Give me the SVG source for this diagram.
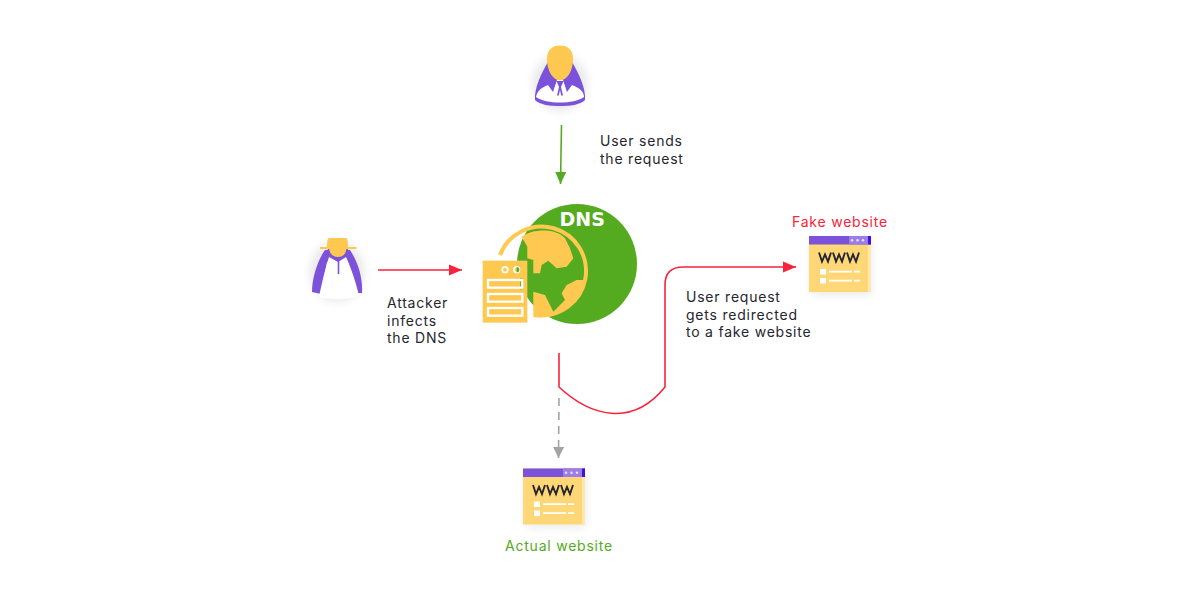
<svg xmlns="http://www.w3.org/2000/svg" width="1200" height="610" viewBox="0 0 1200 610">
<style>
text{font-family:"Inter","Open Sans","Liberation Sans",sans-serif;font-size:14px;letter-spacing:.78px;fill:#26262e}
.y{fill:#ffc851}.p{fill:#7b52d9}
.l{fill:none;stroke-width:1.6}
.r{stroke:#f9233b}
</style>
<defs>
<marker id="hr" markerUnits="userSpaceOnUse" markerWidth="14" markerHeight="12" refX="13" refY="6" orient="auto"><path d="M0 0.500L13 6L0 11.500Z" fill="#f9233b"/></marker>
<marker id="hg" markerUnits="userSpaceOnUse" markerWidth="14" markerHeight="12" refX="12" refY="6" orient="auto"><path d="M0 0.500L12 6L0 11.500Z" fill="#55ab20"/></marker>
<marker id="hk" markerUnits="userSpaceOnUse" markerWidth="14" markerHeight="12" refX="11" refY="6" orient="auto"><path d="M0 0.500L11 6L0 11.500Z" fill="#a3a3a3"/></marker>
<filter id="soft" x="-40%" y="-40%" width="180%" height="180%"><feGaussianBlur stdDeviation="5"/></filter>
<g id="site">
<rect x="3" y="3" width="60" height="56" fill="#000" opacity=".08" filter="url(#soft)"/>
<rect width="62" height="56" fill="#ffd777"/>
<rect x="59" width="3" height="56" fill="#ffe7ae"/>
<rect width="62" height="8.500" fill="#7b52d9"/>
<rect x="40" width="19" height="8.500" fill="#9d7ce6"/>
<rect x="59" width="3" height="8.500" fill="#3f10e0"/>
<circle cx="43" cy="4.300" r="1.300" fill="#d9e4ff"/><circle cx="48.500" cy="4.300" r="1.300" fill="#d9e4ff"/><circle cx="54" cy="4.300" r="1.300" fill="#d9e4ff"/>
<path d="M10 16.500l3 9 3-7 3 7 3-9M24 16.500l3 9 3-7 3 7 3-9M38 16.500l3 9 3-7 3 7 3-9" fill="none" stroke="#26262e" stroke-width="1.900"/>
<rect x="11" y="33" width="6" height="5.500" fill="#fff"/><rect x="11" y="42" width="6" height="5.500" fill="#fff"/>
<path d="M20 35.700H43M45 35.700H51M20 44.700H43M45 44.700H51" stroke="#fff" stroke-width="1.800"/>
</g>
</defs>
<rect width="1200" height="610" fill="#fff"/>

<g id="user">
<ellipse cx="560" cy="83" rx="27" ry="28" fill="#000" opacity=".09" filter="url(#soft)"/>
<path d="M548 62C542 72 534 88 535 100C540 105 550 106 560 106C570 106 580 105 585 100C586 88 578 72 572 62Z" class="p"/>
<path d="M536 97C537 92 540 88 548 85L553 92L557 80H563L567 92L572 85C580 88 584 92 584 97C578 101 570 102.500 560 102.500C550 102.500 542 101 536 97Z" fill="#fff"/>
<path d="M556.500 81L559 87L557 95.500H558.800L560 90L561.200 95.500H563L561 87L563.500 81Z" class="p"/>
<path d="M560 45.500C552 45.500 547 50 547 59C547 71 553 80.500 560 80.500C567 80.500 573 71 573 59C573 50 568 45.500 560 45.500Z" class="y"/>
</g>

<g id="attacker">
<ellipse cx="337" cy="272" rx="27" ry="30" fill="#000" opacity=".09" filter="url(#soft)"/>
<path d="M325 250C319 258 312 276 312 292L321 294L327 262L348 262L357 293L362 293C363 278 358 262 350 250Z" class="p"/>
<path d="M329 257C326 266 322 282 319 297C330 300 348 300 359 296C356 282 351 268 346 257L338 262Z" fill="#fff"/>
<path d="M337.700 260h1.600v14h-1.600z" class="p"/>
<path d="M327.500 247H348C348 256 343 259 338 259C333 259 328 256 327.500 247Z" class="p"/>
<path d="M329 248H346.500C346 254 343 257 338 257C333 257 329.500 254 329 248Z" class="y"/>
<path d="M329 238H346C347 238 348 240 348 247H356.500V249H320V247H327C327 240 328 238 329 238Z" class="y"/>
</g>

<g id="dns">
<circle cx="577" cy="264" r="60" fill="#55ab20"/>
<text x="559.500" y="226" style="font-family:'DejaVu Sans',sans-serif;font-weight:700;font-size:19px;letter-spacing:0;fill:#fff">DNS</text>
<path d="M500 255A44.500 44.500 0 1 1 537 315.300" fill="none" stroke="#ffc851" stroke-width="4"/>
<g transform="translate(470 190) scale(.3333)">
<path class="y" d="M155 140C190 115 260 115 285 145L300 175L310 205L290 230L260 235L235 212L215 225L210 250L190 250L190 210L172 205L172 170Z"/>
<path class="y" d="M345 270L320 270L290 285L275 310L285 330L250 365L240 345L225 315L190 305L190 382C260 385 330 340 345 270Z"/>
<rect class="y" x="38" y="212" width="134" height="186"/>
<circle cx="105" cy="239" r="11" fill="#fff"/><circle cx="105" cy="239" r="6" class="y"/>
<circle cx="140" cy="239" r="11" fill="#fff"/><circle cx="140" cy="239" r="6" class="y"/>
<path d="M140 231A8 8 0 0 1 140 247Z" fill="#55ab20"/>
<path d="M150 265H160V298H150Z" fill="#55ab20" opacity=".75"/>
<g fill="none" stroke="#fff" stroke-width="7"><rect x="54" y="270" width="103" height="23"/><rect x="54" y="312" width="103" height="23"/><rect x="54" y="354" width="103" height="23"/></g>
<path d="M135 282h15M135 324h15M135 366h15" stroke="#ffc851" stroke-width="3"/>
</g>
</g>

<g id="fake-website"><use href="#site" x="809" y="236"/></g>
<g id="actual-website"><use href="#site" x="523" y="468.500"/></g>

<g id="connectors">
<path class="l" d="M561.500 125L560.500 184" stroke="#55ab20" marker-end="url(#hg)"/>
<path class="l r" d="M378 270H462" marker-end="url(#hr)"/>
<path class="l r" d="M559 353V387C590 416 632 428 665 387V285Q665 267 683 267H796" marker-end="url(#hr)"/>
<path class="l" d="M559 398L558.500 458" stroke="#a3a3a3" stroke-dasharray="8 6" marker-end="url(#hk)"/>
</g>

<g id="labels">
<text x="600" y="146">User sends</text>
<text x="600" y="164">the request</text>
<text x="387" y="308">Attacker</text>
<text x="387" y="325.500">infects</text>
<text x="387" y="343">the DNS</text>
<text x="686" y="302">User request</text>
<text x="686" y="319.500">gets redirected</text>
<text x="686" y="337">to a fake website</text>
<text x="792" y="227" style="fill:#f9233b">Fake website</text>
<text x="505" y="550.500" style="fill:#55ab20">Actual website</text>
</g>
</svg>
